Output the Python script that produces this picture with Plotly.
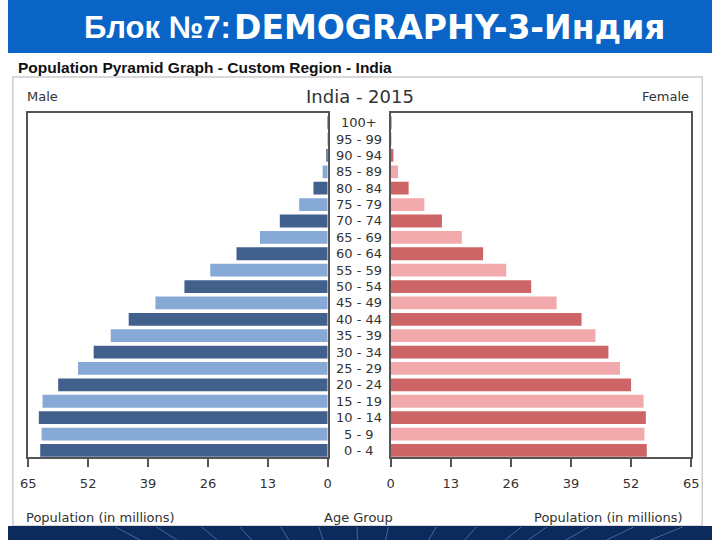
import plotly.graph_objects as go

age_groups = ["0 - 4", "5 - 9", "10 - 14", "15 - 19", "20 - 24", "25 - 29", "30 - 34",
              "35 - 39", "40 - 44", "45 - 49", "50 - 54", "55 - 59", "60 - 64", "65 - 69",
              "70 - 74", "75 - 79", "80 - 84", "85 - 89", "90 - 94", "95 - 99", "100+"]
male = [62.4, 62.1, 62.7, 61.9, 58.5, 54.2, 50.8, 47.1, 43.2, 37.4, 31.1, 25.5,
        19.8, 14.7, 10.4, 6.2, 3.1, 1.1, 0.3, 0.1, 0.03]
female = [55.4, 54.9, 55.2, 54.7, 52.0, 49.6, 47.1, 44.3, 41.3, 35.9, 30.4, 25.0,
          20.0, 15.4, 11.1, 7.3, 3.9, 1.6, 0.6, 0.15, 0.03]
tick_vals = [0, 13, 26, 39, 52, 65]

W, H = 720, 540
def px(x): return x / W
def py(y): return 1 - y / H

male_colors = ["#41618c" if i % 2 == 0 else "#87a9d5" for i in range(len(age_groups))]
female_colors = ["#cd6566" if i % 2 == 0 else "#f2a9ab" for i in range(len(age_groups))]

fig = go.Figure()
fig.add_trace(go.Bar(y=age_groups, x=male, orientation="h", xaxis="x", yaxis="y",
                     marker=dict(color=male_colors, line=dict(width=0)), showlegend=False))
fig.add_trace(go.Bar(y=age_groups, x=female, orientation="h", xaxis="x2", yaxis="y2",
                     marker=dict(color=female_colors, line=dict(width=0)), showlegend=False))

axis_common = dict(
    showline=True, mirror=True, linecolor="#555555", linewidth=1.5,
    showgrid=False, zeroline=False, ticks="outside", ticklen=8, tickwidth=1.5,
    tickcolor="#555555", tickvals=tick_vals, ticktext=[str(v) for v in tick_vals],
    tickfont=dict(family="DejaVu Sans", size=13, color="#333333"), ticklabelstandoff=5,
    fixedrange=True,
)
yaxis_common = dict(
    domain=[py(457.3), py(112.5)], range=[-0.42, 20.62], type="category",
    categoryorder="array", categoryarray=age_groups, showticklabels=False,
    showgrid=False, zeroline=False, showline=True, mirror=True, linecolor="#555555",
    linewidth=1.5, ticks="", fixedrange=True,
)

fig.update_layout(
    width=W, height=H, margin=dict(l=0, r=0, t=0, b=0),
    paper_bgcolor="white", plot_bgcolor="white", bargap=0.22,
    xaxis=dict(domain=[px(20.7), px(327)], range=[65, 0], anchor="y", **axis_common),
    xaxis2=dict(domain=[px(391.3), px(698.7)], range=[0, 65], anchor="y2", **axis_common),
    yaxis=dict(anchor="x", **yaxis_common),
    yaxis2=dict(anchor="x2", **yaxis_common),
    font=dict(family="DejaVu Sans", color="#333333"),
)

shapes = []
# header band
shapes.append(dict(type="rect", xref="paper", yref="paper", x0=0, x1=1, y0=py(53), y1=1,
                   fillcolor="#0a64c6", line=dict(width=0), layer="below"))
# frame
shapes.append(dict(type="rect", xref="paper", yref="paper", x0=px(5), x1=px(710), y0=py(526), y1=py(77),
                   fillcolor="white", line=dict(color="#cccccc", width=1.5), layer="below"))
# footer band
shapes.append(dict(type="rect", xref="paper", yref="paper", x0=0, x1=1, y0=0, y1=py(526),
                   fillcolor="#0c2a5c", line=dict(width=0), layer="above"))
for xt in [110, 152, 198, 237, 279, 318, 357, 389, 438, 479, 525, 551, 594, 640, 690]:
    xb = 360 + (xt - 360) * 0.9
    shapes.append(dict(type="line", xref="paper", yref="paper", x0=px(xt), x1=px(xb),
                       y0=py(527), y1=0, line=dict(color="#3d6aa6", width=1), layer="above"))
fig.update_layout(shapes=shapes)

ann = []
# age labels
for g in age_groups:
    ann.append(dict(text=g, x=px(359), xref="paper", y=g, yref="y", showarrow=False,
                    xanchor="center", yanchor="middle",
                    font=dict(family="DejaVu Sans", size=13, color="#333333")))
ann += [
    dict(text="<b>Блок №7:</b>", x=px(76), y=py(27), xref="paper", yref="paper", showarrow=False,
         xanchor="left", yanchor="middle", font=dict(family="Liberation Sans", size=31, color="white")),
    dict(text="<b>DEMOGRAPHY-3-Индия</b>", x=px(229), y=py(27), xref="paper", yref="paper", showarrow=False,
         xanchor="left", yanchor="middle", font=dict(family="DejaVu Sans", size=33, color="white")),
    dict(text="<b>Population Pyramid Graph - Custom Region - India</b>", x=px(8), y=py(68),
         xref="paper", yref="paper", showarrow=False, xanchor="left", yanchor="middle",
         font=dict(family="Liberation Sans", size=15.5, color="#111111")),
    dict(text="India - 2015", x=px(360), y=py(96), xref="paper", yref="paper", showarrow=False,
         xanchor="center", yanchor="middle", font=dict(family="DejaVu Sans", size=18, color="#333333")),
    dict(text="Male", x=px(17), y=py(97), xref="paper", yref="paper", showarrow=False,
         xanchor="left", yanchor="middle", font=dict(family="DejaVu Sans", size=13, color="#333333")),
    dict(text="Female", x=px(699), y=py(97), xref="paper", yref="paper", showarrow=False,
         xanchor="right", yanchor="middle", font=dict(family="DejaVu Sans", size=13, color="#333333")),
    dict(text="Population (in millions)", x=px(16), y=py(517), xref="paper", yref="paper", showarrow=False,
         xanchor="left", yanchor="middle", font=dict(family="DejaVu Sans", size=13, color="#333333")),
    dict(text="Age Group", x=px(358), y=py(517), xref="paper", yref="paper", showarrow=False,
         xanchor="center", yanchor="middle", font=dict(family="DejaVu Sans", size=13, color="#333333")),
    dict(text="Population (in millions)", x=px(692), y=py(517), xref="paper", yref="paper", showarrow=False,
         xanchor="right", yanchor="middle", font=dict(family="DejaVu Sans", size=13, color="#333333")),
]
fig.update_layout(annotations=ann)

fig.write_html("out.html", config={"displayModeBar": False},
               post_script="document.body.style.margin='0';document.body.style.overflow='hidden';")
